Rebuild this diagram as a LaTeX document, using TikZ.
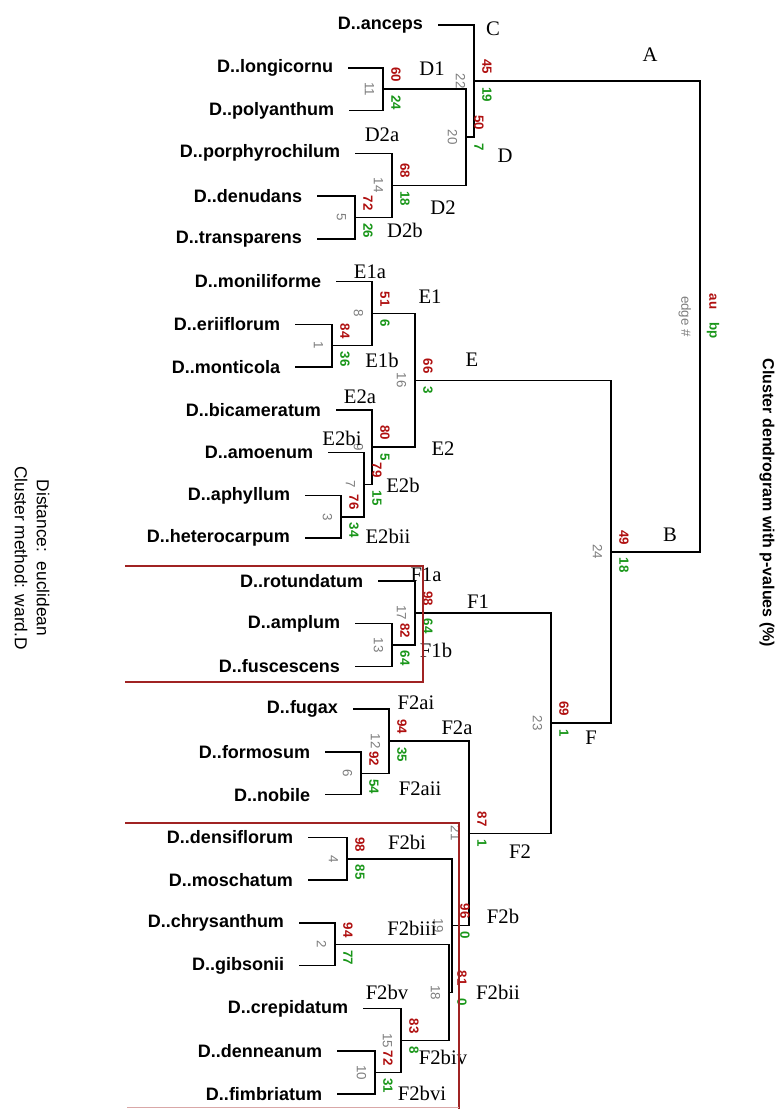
\documentclass[tikz,border=0pt]{standalone}
\usepackage{fontspec}
\setmainfont{Liberation Serif}
\setsansfont{Liberation Sans}
\usetikzlibrary{positioning}

\definecolor{aured}{RGB}{175,15,15}
\definecolor{bpgreen}{RGB}{25,150,25}
\definecolor{edgegrey}{RGB}{125,125,125}
\definecolor{boxred}{RGB}{160,35,35}

\begin{document}
\begin{tikzpicture}[x=0.75pt, y=-0.75pt,
  leaf/.style={anchor=east, inner sep=0pt, outer xsep=11.25pt, font=\sffamily\bfseries\fontsize{13.5}{16}\selectfont},
  branch/.style={line width=1.15pt},
  cladetag/.style={inner sep=0pt, font=\rmfamily\fontsize{15.5}{18}\selectfont},
  auval/.style={rotate=-90, anchor=east, inner sep=0.5pt, text=aured, font=\sffamily\bfseries\fontsize{10}{12}\selectfont},
  bpval/.style={rotate=-90, anchor=west, inner sep=0.5pt, text=bpgreen, font=\sffamily\bfseries\fontsize{10}{12}\selectfont},
  edgeno/.style={rotate=-90, anchor=north, inner sep=0.5pt, text=edgegrey, font=\sffamily\fontsize{10}{12}\selectfont},
  clusterbox/.style={boxred, line width=0.9pt}]
\useasboundingbox (0,0) rectangle (780,1109);

% Leaves
\foreach \name/\ls [count=\k from 0] in {anceps/438, longicornu/348, polyanthum/349, porphyrochilum/355, denudans/317, transparens/317, moniliforme/336, eriiflorum/295, monticola/295, bicameratum/336, amoenum/328, aphyllum/305, heterocarpum/305, rotundatum/378, amplum/355, fuscescens/355, fugax/353, formosum/325, nobile/325, densiflorum/308, moschatum/308, chrysanthum/299, gibsonii/299, crepidatum/363, denneanum/337, fimbriatum/337} {
    \node[leaf] (\name) at (\ls, 25+42.76*\k) {D..\name};
}

% Joins (x of the join, y between the two children)
\foreach \n/\x/\y in {n11/383/89.14, n5/355/217.42, n14/392/185.35, n20/466/137.25, n22/474/81.1,
    n1/332/345.7, n8/372/313.63, n3/341/516.74, n7/364/484.67, n9/372/447.26, n16/415/380.4,
    n13/392/645.02, n17/415/612.95, n6/361/773.3, n12/389/741.23, n4/347/858.82, n2/335/944.34,
    n10/375/1072.62, n15/401/1040.55, n18/449/992.45, n19/452/925.6, n21/469/833.4,
    n23/551/723.2, n24/611/551.8, n25/700/316.45} {
    \coordinate (\n) at (\x,\y);
}

% Cluster C / D
\draw[branch] (longicornu.east) -| (n11) |- (polyanthum.east);
\draw[branch] (denudans.east) -| (n5) |- (transparens.east);
\draw[branch] (porphyrochilum.east) -| (n14) |- (n5);
\draw[branch] (n11) -| (n20) |- (n14);
\draw[branch] (anceps.east) -| (n22) |- (n20);

% Cluster E
\draw[branch] (eriiflorum.east) -| (n1) |- (monticola.east);
\draw[branch] (moniliforme.east) -| (n8) |- (n1);
\draw[branch] (aphyllum.east) -| (n3) |- (heterocarpum.east);
\draw[branch] (amoenum.east) -| (n7) |- (n3);
\draw[branch] (bicameratum.east) -| (n9) |- (n7);
\draw[branch] (n8) -| (n16) |- (n9);

% Cluster F
\draw[branch] (amplum.east) -| (n13) |- (fuscescens.east);
\draw[branch] (rotundatum.east) -| (n17) |- (n13);
\draw[branch] (formosum.east) -| (n6) |- (nobile.east);
\draw[branch] (fugax.east) -| (n12) |- (n6);
\draw[branch] (densiflorum.east) -| (n4) |- (moschatum.east);
\draw[branch] (chrysanthum.east) -| (n2) |- (gibsonii.east);
\draw[branch] (denneanum.east) -| (n10) |- (fimbriatum.east);
\draw[branch] (crepidatum.east) -| (n15) |- (n10);
\draw[branch] (n2) -| (n18) |- (n15);
\draw[branch] (n4) -| (n19) |- (n18);
\draw[branch] (n12) -| (n21) |- (n19);
\draw[branch] (n17) -| (n23) |- (n21);

% Root
\draw[branch] (n16) -| (n24) |- (n23);
\draw[branch] (n22) -| (n25) |- (n24);

% au / bp / edge numbers
\foreach \n/\a/\b/\e in {n11/60/24/11, n5/72/26/5, n14/68/18/14, n20/50/7/20, n22/45/19/22,
    n1/84/36/1, n8/51/6/8, n3/76/34/3, n7/79/15/7, n9/80/5/9, n16/66/3/16,
    n13/82/64/13, n17/98/64/17, n6/92/54/6, n12/94/35/12, n4/98/85/4, n2/94/77/2,
    n10/72/31/10, n15/83/8/15, n18/81/0/18, n19/96/0/19, n21/87/1/21, n23/69/1/23, n24/49/18/24} {
    \node[auval] (au\e) at ([shift={(13,-6)}]\n) {\a};
    \node[bpval] (bp\e) at ([shift={(13,5)}]\n) {\b};
    \node[edgeno] (edge\e) at ([shift={(-8,0)}]\n) {\e};
}
\node[auval] (aukey) at ([shift={(13,-6)}]n25) {au};
\node[bpval] (bpkey) at ([shift={(13,5)}]n25) {bp};
\node[edgeno] (edgekey) at ([shift={(-8,0)}]n25) {edge \#};

% Clade letters
\foreach \t/\x/\y in {C/493/29, A/650/55, D1/432/69, D/505/156, D2a/382/135, D2/443/208, D2b/405/230,
    E1a/370/272, E1/430/297, E1b/382/360, E/472/360, E2a/360/397, E2bi/342/438, E2/443/449,
    E2b/403/485, E2bii/388/536, B/670/535, F1a/426/575, F1/478/602, F1b/436/650, F2ai/416/703,
    F2a/457/728, F/591/738, F2aii/420/789, F2bi/407/842, F2/520/852, F2b/503/916, F2biii/412/928,
    F2bii/498/992, F2bv/387/992, F2biv/443/1057, F2bvi/422/1093} {
    \node[cladetag] (tag\t) at (\x,\y) {\t};
}

% Boxes round F1 and F2b
\draw[clusterbox] (125,566) -- (423,566) -- (423,682) -- (125,682);
\draw[clusterbox] (125,823) -- (459,823) -- (459,1109);
\draw[boxred!40, line width=0.9pt] (127,1107.5) -- (459,1107.5);

% Titles
\node[rotate=-90, font=\sffamily\bfseries\fontsize{12}{14}\selectfont] (title) at (767,503) {Cluster dendrogram with p-values (\%)};
\node[rotate=-90, align=center, font=\sffamily\fontsize{13}{16.5}\selectfont] (method) at (32,558) {Distance:\ \ euclidean\\Cluster method: ward.D};

\end{tikzpicture}
\end{document}
